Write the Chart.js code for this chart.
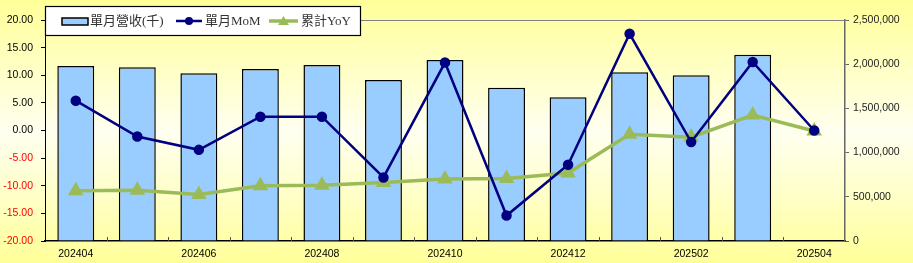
<!DOCTYPE html>
<html>
<head>
<meta charset="utf-8">
<script src="https://cdn.jsdelivr.net/npm/chart.js@4"></script>
<style>
  html, body { margin: 0; padding: 0; }
  #wrap {
    width: 913px; height: 263px; position: relative;
    background: linear-gradient(to bottom, #ffff99 0%, #ffffcc 30%, #fffff0 50%, #ffffcc 72%, #ffff99 100%);
  }
</style>
</head>
<body>
<div id="wrap"><canvas id="chart" width="913" height="263"></canvas></div>
<script>
// 資料
const months = ['202404', '202405', '202406', '202407', '202408', '202409', '202410',
                '202411', '202412', '202501', '202502', '202503', '202504'];
const revenue = [1980000, 1965000, 1897000, 1946000, 1990000, 1820000, 2047000,
                 1734000, 1625000, 1910000, 1874000, 2107000, null];
const mom = [5.4, -1.1, -3.5, 2.5, 2.5, -8.5, 12.3, -15.4, -6.2, 17.5, -2.1, 12.4, 0.0];
const yoy = [-10.9, -10.8, -11.6, -10.0, -9.9, -9.4, -8.8, -8.7, -7.7, -0.7, -1.2, 2.8, -0.1];
const leftTicks = { min: -20, max: 20, step: 5 };
const rightTicks = { min: 0, max: 2500000, step: 500000 };

const tickFont = { family: "'Liberation Sans', Arial, sans-serif", size: 10.5 };

/**
 * 圖例與繪圖區外框
 */
const framePlugin = {
    id: 'frame',
    afterDatasetsDraw(chart) {
        const { ctx, chartArea: a } = chart;
        ctx.save();
        // 上框線
        ctx.strokeStyle = '#808080';
        ctx.lineWidth = 1;
        ctx.beginPath();
        ctx.moveTo(a.left, a.top + 0.5);
        ctx.lineTo(a.right, a.top + 0.5);
        ctx.stroke();
        // X軸內側刻度
        const w = (a.right - a.left) / months.length;
        ctx.strokeStyle = '#555';
        ctx.beginPath();
        for (let i = 1; i < months.length; i++) {
            const x = Math.round(a.left + i * w) + 0.5;
            ctx.moveTo(x, a.bottom - 4);
            ctx.lineTo(x, a.bottom);
        }
        ctx.stroke();
        ctx.restore();
    },
    afterDraw(chart) {
        const ctx = chart.ctx;
        const ds = chart.data.datasets;
        ctx.save();
        ctx.fillStyle = '#fff';
        ctx.fillRect(45, 6, 315, 29);
        ctx.strokeStyle = '#000';
        ctx.lineWidth = 1.2;
        ctx.strokeRect(45.5, 6.5, 315, 29);

        const cy = 21;
        ctx.font = "13px 'Liberation Serif', 'Noto Sans CJK TC', serif";
        ctx.fillStyle = '#333';
        ctx.textBaseline = 'middle';

        // 營收
        ctx.fillStyle = ds[0].backgroundColor;
        ctx.fillRect(62, cy - 3, 26, 7);
        ctx.strokeStyle = '#000';
        ctx.lineWidth = 1.5;
        ctx.strokeRect(62, cy - 3, 26, 7);
        ctx.fillStyle = '#333';
        ctx.fillText(ds[0].label, 90, cy + 1);

        // MoM
        ctx.strokeStyle = ds[1].borderColor;
        ctx.lineWidth = 2.5;
        ctx.beginPath();
        ctx.moveTo(176, cy); ctx.lineTo(202, cy);
        ctx.stroke();
        ctx.fillStyle = ds[1].borderColor;
        ctx.beginPath();
        ctx.arc(189, cy, 4, 0, Math.PI * 2);
        ctx.fill();
        ctx.fillStyle = '#333';
        ctx.fillText(ds[1].label, 205, cy + 1);

        // YoY
        ctx.strokeStyle = ds[2].borderColor;
        ctx.lineWidth = 3.5;
        ctx.beginPath();
        ctx.moveTo(269, cy); ctx.lineTo(298, cy);
        ctx.stroke();
        ctx.fillStyle = ds[2].borderColor;
        ctx.beginPath();
        ctx.moveTo(283.5, cy - 5); ctx.lineTo(289, cy + 4); ctx.lineTo(278, cy + 4);
        ctx.closePath();
        ctx.fill();
        ctx.fillStyle = '#333';
        ctx.fillText(ds[2].label, 301, cy + 1);
        ctx.restore();
    }
};

new Chart(document.getElementById('chart'), {
    type: 'bar',
    data: {
        labels: months,
        datasets: [
            {
                type: 'bar',
                label: '單月營收(千)',
                data: revenue,
                yAxisID: 'y1',
                backgroundColor: '#99ccff',
                borderColor: '#000',
                borderWidth: 1.5,
                categoryPercentage: 1,
                barPercentage: 0.6,
                order: 3
            },
            {
                type: 'line',
                label: '單月MoM',
                data: mom,
                yAxisID: 'y',
                borderColor: '#000080',
                backgroundColor: '#000080',
                borderWidth: 2.5,
                pointRadius: 4,
                pointStyle: 'circle',
                tension: 0,
                order: 1
            },
            {
                type: 'line',
                label: '累計YoY',
                data: yoy,
                yAxisID: 'y',
                borderColor: '#9bbb59',
                backgroundColor: '#9bbb59',
                borderWidth: 3.5,
                pointRadius: 5.5,
                pointStyle: 'triangle',
                tension: 0,
                order: 2
            }
        ]
    },
    options: {
        responsive: false,
        animation: false,
        layout: { padding: { top: 20, left: 0, right: 0, bottom: 0 } },
        plugins: { legend: { display: false }, tooltip: { enabled: false } },
        scales: {
            x: {
                offset: true,
                grid: { display: true, drawOnChartArea: false, drawTicks: false },
                border: { color: '#000', width: 1.5 },
                ticks: {
                    autoSkip: false, maxRotation: 0, padding: 7,
                    color: '#000', font: tickFont,
                    callback: (v, i) => (i % 2 === 0 ? months[i] : '')
                },
                afterFit: s => { s.height = 22; }
            },
            y: {
                position: 'left',
                min: leftTicks.min, max: leftTicks.max,
                grid: { drawOnChartArea: false, tickLength: 4, color: '#000' },
                border: { color: '#000', width: 1 },
                ticks: {
                    stepSize: leftTicks.step, padding: 8, font: tickFont,
                    color: c => (c.tick && c.tick.value < 0 ? '#ff0000' : '#000'),
                    callback: v => v.toFixed(2)
                },
                afterFit: s => { s.width = 45; }
            },
            y1: {
                position: 'right',
                min: rightTicks.min, max: rightTicks.max,
                grid: { drawOnChartArea: false, tickLength: 4, color: '#666' },
                border: { color: '#666', width: 1.5 },
                ticks: {
                    stepSize: rightTicks.step, padding: 4, font: tickFont,
                    color: '#222',
                    callback: v => v.toLocaleString('en-US')
                },
                afterFit: s => { s.width = 68; }
            }
        }
    },
    plugins: [framePlugin]
});
</script>
</body>
</html>
